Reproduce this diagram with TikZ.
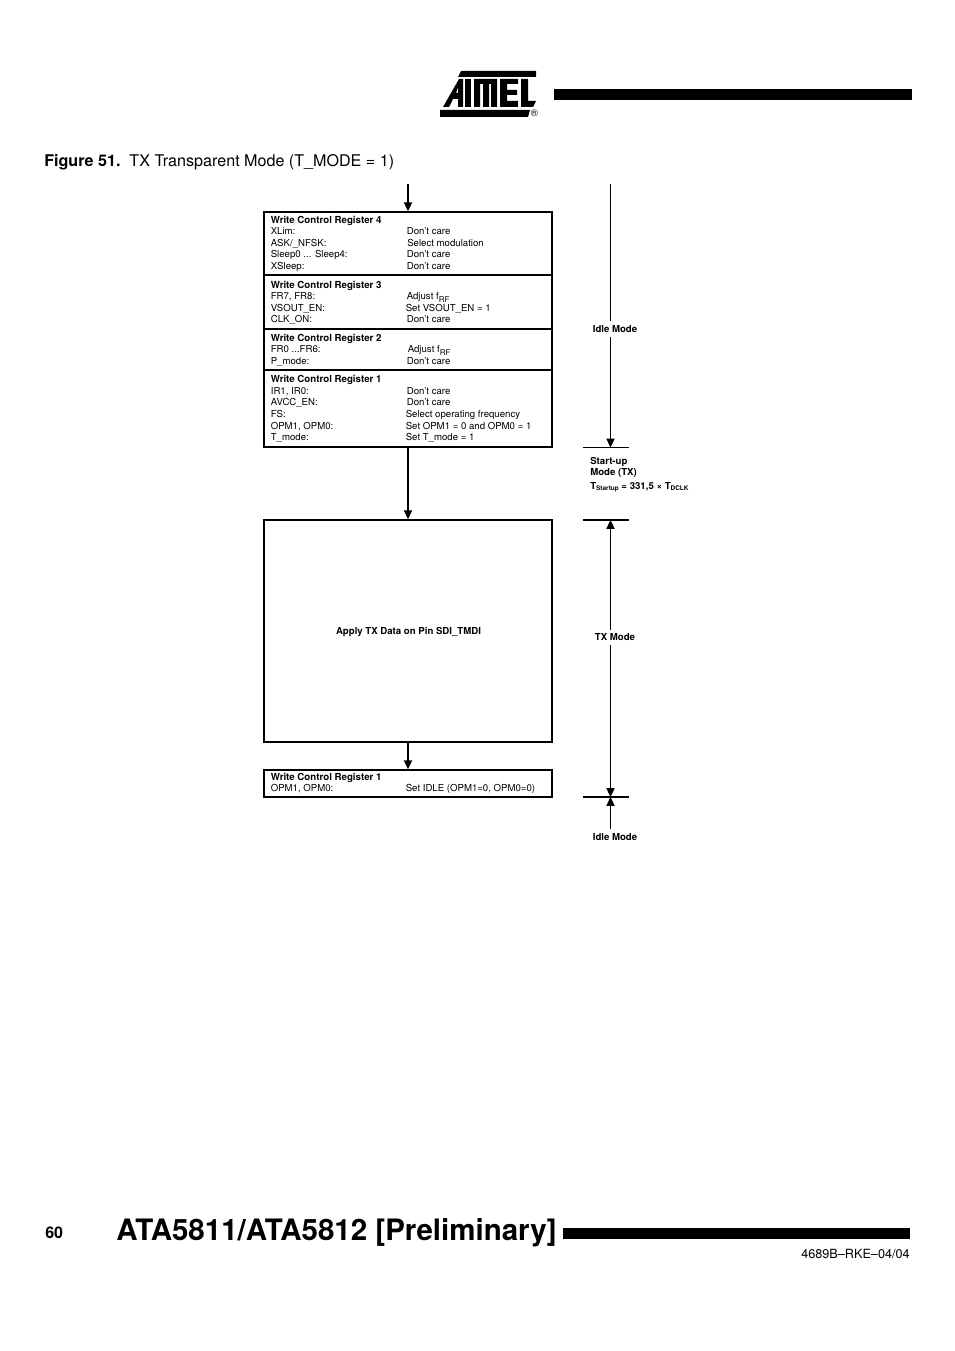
\documentclass[tikz,border=0pt]{standalone}
\usepackage{fontspec}
\setmainfont{TeX Gyre Heros}
\usetikzlibrary{arrows.meta}
\tikzset{
  regbox/.style={draw=black,line width=0.9pt,minimum width=179.6pt,inner sep=0pt},
  regtext/.style={anchor=base west,inner sep=0pt,font=\fontsize{6}{7}\selectfont},
  reghead/.style={regtext,font=\fontsize{6.05}{7}\selectfont\bfseries},
  modehead/.style={regtext,font=\fontsize{6}{7}\selectfont\bfseries},
  modetext/.style={inner xsep=1pt,inner ysep=2.6pt,fill=white,font=\fontsize{6}{7}\selectfont\bfseries},
  headtip/.style={-{Triangle[width=5pt,length=5.5pt]}},
  flowline/.style={line width=0.9pt,headtip},
  timeline/.style={line width=1pt,headtip},
  tickline/.style={line width=0.9pt}
}
\begin{document}
\begin{tikzpicture}[x=0.6237pt,y=-0.6237pt]
\useasboundingbox (0,0) rectangle (954,1351);

% Header
\fill (554,89) rectangle (912,100);
% Logo
\fill (461,71) -- (536,71) -- (536,77) -- (458,77) -- cycle;
\fill (440,110) -- (530,110) -- (528,117) -- (440,117) -- cycle;
\fill[even odd rule] (443,107) -- (459,79) -- (463,79) -- (463,107) -- (458,107) -- (458,99) -- (453,99) -- (449,107) -- cycle
  (456,93) -- (458,93) -- (458,87) -- cycle;
\fill (465,79) rectangle (471,107);
\fill (474,79) -- (497,79) -- (497,107) -- (491,107) -- (491,84) -- (489,84) -- (489,107) -- (483,107) -- (483,84) -- (480,84) -- (480,107) -- (474,107) -- cycle;
\fill (500,79) -- (518,79) -- (518,84) -- (507,84) -- (507,90) -- (517,90) -- (517,95) -- (507,95) -- (507,101) -- (518,101) -- (518,107) -- (500,107) -- cycle;
\fill (521,79) -- (528,79) -- (528,101) -- (536,101) -- (533,107) -- (521,107) -- cycle;
\node[inner sep=0pt,font=\fontsize{6}{6}\selectfont] (logomark) at (534.5,113.5) {®};

% Caption
\node[anchor=base west,inner sep=0pt,font=\fontsize{10.05}{12}\selectfont] (caption) at (44,167) {\textbf{Figure 51.}\ \ TX Transparent Mode (T\_MODE = 1)};

% Register boxes
\coordinate (flowstart) at (408,184);
\node[regbox,minimum height=39.3pt] (reg4) at (408,243.5) {};
\node[regbox,minimum height=33.7pt] (reg3) at (408,302) {};
\node[regbox,minimum height=25.6pt] (reg2) at (408,349.5) {};
\node[regbox,minimum height=48pt] (reg1) at (408,408.5) {};
\node[regbox,minimum height=138.5pt] (txbox) at (408,631) {};
\node[regbox,minimum height=16.8pt] (regend) at (408,783.5) {};
\node[inner sep=0pt,font=\fontsize{6}{7}\selectfont\bfseries] (txtext) at (408.5,632) {Apply TX Data on Pin SDI\_TMDI};

\draw[flowline] (flowstart) -- (reg4.north);
\draw[flowline] (reg1.south) -- (txbox.north);
\draw[flowline] (txbox.south) -- (regend.north);

% Register 4
\node[reghead] (r4a) at (270.5,224) {Write Control Register 4};
\node[regtext] (r4b) at (270.5,235) {XLim:};
\node[regtext] (r4c) at (406.5,235) {Don't care};
\node[regtext] (r4d) at (270.5,247) {ASK/\_NFSK:};
\node[regtext] (r4e) at (407,247) {Select modulation};
\node[regtext] (r4f) at (270.5,258) {Sleep0 ... Sleep4:};
\node[regtext] (r4g) at (406.5,258) {Don't care};
\node[regtext] (r4h) at (270.5,270) {XSleep:};
\node[regtext] (r4i) at (406.5,270) {Don't care};

% Register 3
\node[reghead] (r3a) at (270.5,289) {Write Control Register 3};
\node[regtext] (r3b) at (270.5,300) {FR7, FR8:};
\node[regtext] (r3c) at (406.5,300) {Adjust f$_{\mathrm{RF}}$};
\node[regtext] (r3d) at (270.5,311.5) {VSOUT\_EN:};
\node[regtext] (r3e) at (405.5,311.5) {Set VSOUT\_EN = 1};
\node[regtext] (r3f) at (270.5,323) {CLK\_ON:};
\node[regtext] (r3g) at (406.5,323) {Don't care};

% Register 2
\node[reghead] (r2a) at (270.5,342) {Write Control Register 2};
\node[regtext] (r2b) at (270.5,353) {FR0 ...FR6:};
\node[regtext] (r2c) at (407.5,353) {Adjust f$_{\mathrm{RF}}$};
\node[regtext] (r2d) at (270.5,365) {P\_mode:};
\node[regtext] (r2e) at (406.5,365) {Don't care};

% Register 1
\node[reghead] (r1a) at (270.5,383) {Write Control Register 1};
\node[regtext] (r1b) at (270.5,395) {IR1, IR0:};
\node[regtext] (r1c) at (406.5,395) {Don't care};
\node[regtext] (r1d) at (270.5,405.5) {AVCC\_EN:};
\node[regtext] (r1e) at (406.5,405.5) {Don't care};
\node[regtext] (r1f) at (270.5,418) {FS:};
\node[regtext] (r1g) at (405.5,418) {Select operating frequency};
\node[regtext] (r1h) at (270.5,429.5) {OPM1, OPM0:};
\node[regtext] (r1i) at (405.5,429.5) {Set OPM1 = 0 and OPM0 = 1};
\node[regtext] (r1j) at (270.5,440.5) {T\_mode:};
\node[regtext] (r1k) at (405.5,440.5) {Set T\_mode = 1};

% Last register
\node[reghead] (rea) at (270.5,780) {Write Control Register 1};
\node[regtext] (reb) at (270.5,791) {OPM1, OPM0:};
\node[regtext] (rec) at (405.5,791) {Set IDLE (OPM1=0, OPM0=0)};

% Time line
\coordinate (idletop) at (610.5,184);
\coordinate (tickaL) at (583,447.5);
\coordinate (tickaR) at (629,447.5);
\coordinate (tickbL) at (583,520);
\coordinate (tickbR) at (629,520);
\coordinate (tickcL) at (583,797);
\coordinate (tickcR) at (629,797);
\coordinate (tickamid) at (610.5,447.5);
\coordinate (tickbmid) at (610.5,520);
\coordinate (tickcmid) at (610.5,797);
\coordinate (idleend) at (610.5,829);
\coordinate (txmid) at (610.5,637);

\draw[tickline] (tickaL) -- (tickaR);
\draw[tickline] (tickbL) -- (tickbR);
\draw[tickline] (tickcL) -- (tickcR);
\draw[timeline] (idletop) -- (tickamid);
\draw[timeline] (txmid) -- (tickbmid);
\draw[timeline] (txmid) -- (tickcmid);
\draw[timeline] (idleend) -- (tickcmid);

\node[modetext] (idlelabel) at (615,329) {Idle Mode};
\node[modetext] (txlabel) at (615,637.5) {TX Mode};
\node[modetext,fill=none] (idlelabelb) at (615,837) {Idle Mode};
\node[modehead] (startupa) at (590,464) {Start-up};
\node[modehead] (startupb) at (590,475) {Mode (TX)};
\node[modehead] (startupc) at (590,489) {T\raisebox{-1.2pt}{\fontsize{4}{4}\selectfont Startup} = 331,5 × T\raisebox{-1.2pt}{\fontsize{4}{4}\selectfont DCLK}};

% Footer
\node[anchor=base west,inner sep=0pt,font=\fontsize{10}{12}\selectfont\bfseries] (pagenum) at (45,1238) {60};
\node[anchor=base west,inner sep=0pt,font=\fontsize{18.4}{20}\selectfont\bfseries] (doctitle) at (116,1240) {ATA5811/ATA5812 [Preliminary]};
\fill (563,1228) rectangle (910,1239);
\node[anchor=base east,inner sep=0pt,font=\fontsize{7.9}{9}\selectfont] (docref) at (910,1258) {4689B–RKE–04/04};
\end{tikzpicture}
\end{document}
